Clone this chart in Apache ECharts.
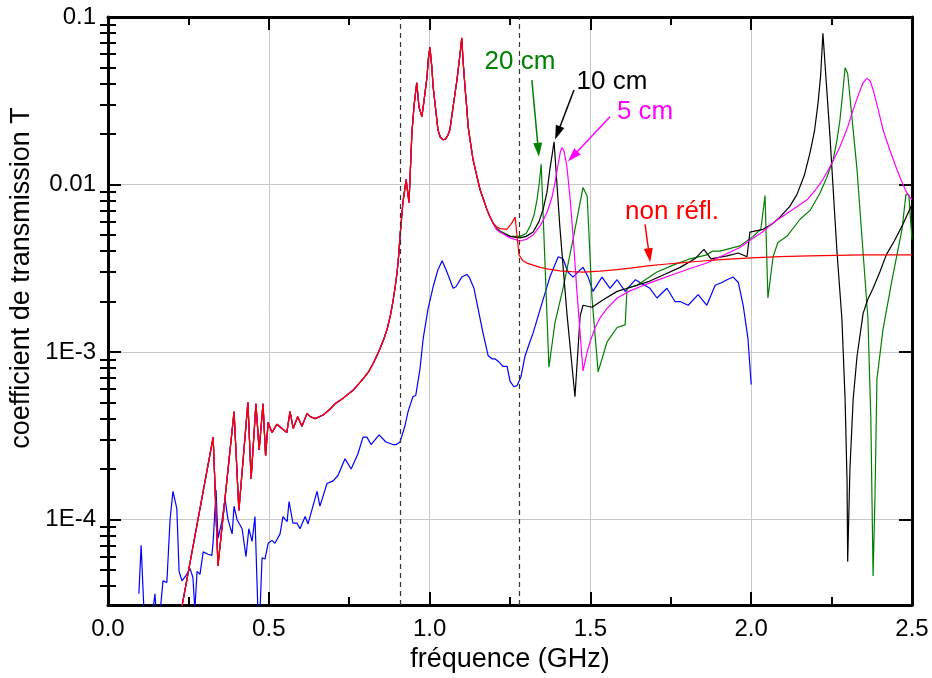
<!DOCTYPE html>
<html><head><meta charset="utf-8">
<script src="https://cdn.jsdelivr.net/npm/echarts@6/dist/echarts.min.js"></script>
<style>html,body{margin:0;padding:0;background:#fff}#c{width:932px;height:678px}</style>
</head><body><div id="c"></div>
<script>
// ---------- data (frequency in GHz, transmission coefficient T) ----------
// low-frequency part shared by all computed curves (up to ~1.2 GHz)
const commonLow = [[0.222,2.5e-5],[0.327,3.1e-4],[0.342,5.3e-5],[0.392,4.4e-4],[0.407,1.13e-4],[0.435,5.0e-4],[0.445,1.75e-4],[0.46,4.9e-4],[0.47,2.6e-4],[0.482,4.9e-4],[0.49,2.4e-4],[0.498,3.8e-4],[0.51,3.3e-4],[0.525,3.7e-4],[0.54,3.5e-4],[0.556,3.3e-4],[0.566,4.4e-4],[0.576,3.5e-4],[0.59,4.1e-4],[0.603,3.6e-4],[0.619,4.3e-4],[0.63,4.1e-4],[0.644,4.0e-4],[0.669,4.2e-4],[0.69,4.55e-4],[0.706,4.9e-4],[0.731,5.3e-4],[0.762,5.9e-4],[0.793,6.9e-4],[0.81,7.6e-4],[0.824,8.5e-4],[0.836,9.5e-4],[0.846,1.05e-3],[0.858,1.2e-3],[0.868,1.37e-3],[0.878,1.65e-3],[0.886,2.0e-3],[0.893,2.45e-3],[0.899,3.0e-3],[0.904,3.8e-3],[0.908,4.9e-3],[0.917,7.8e-3],[0.927,0.0107],[0.936,7.8e-3],[0.945,0.0204],[0.952,0.03],[0.96,0.0405],[0.967,0.029],[0.976,0.0254],[0.983,0.032],[0.992,0.044],[0.996,0.056],[1.001,0.066],[1.007,0.05],[1.011,0.0383],[1.019,0.028],[1.026,0.0212],[1.033,0.0192],[1.042,0.0185],[1.05,0.0187],[1.057,0.0197],[1.063,0.0212],[1.073,0.029],[1.085,0.042],[1.095,0.061],[1.1,0.075],[1.104,0.055],[1.11,0.0383],[1.116,0.028],[1.12,0.022],[1.128,0.0173],[1.135,0.0141],[1.147,0.0112],[1.157,9.3e-3],[1.168,8.1e-3],[1.178,7.1e-3],[1.188,6.4e-3],[1.197,5.9e-3]];
const redTail = [[1.208,5.6e-3],[1.219,5.45e-3],[1.24,5.4e-3],[1.256,5.9e-3],[1.266,6.4e-3],[1.272,4.9e-3],[1.278,3.8e-3],[1.29,3.5e-3],[1.305,3.38e-3],[1.322,3.3e-3],[1.343,3.2e-3],[1.37,3.12e-3],[1.405,3.05e-3],[1.44,3.02e-3],[1.477,3.0e-3],[1.53,3.04e-3],[1.583,3.1e-3],[1.63,3.18e-3],[1.685,3.28e-3],[1.73,3.34e-3],[1.779,3.4e-3],[1.84,3.48e-3],[1.894,3.55e-3],[2.0,3.65e-3],[2.09,3.71e-3],[2.18,3.75e-3],[2.35,3.8e-3],[2.5,3.8e-3]];
const magentaTail = [[1.208,5.4e-3],[1.219,5.2e-3],[1.25,4.8e-3],[1.281,4.6e-3],[1.3,4.7e-3],[1.322,5.0e-3],[1.345,5.7e-3],[1.365,6.8e-3],[1.38,8.3e-3],[1.39,0.0103],[1.4,0.0133],[1.407,0.0158],[1.412,0.0166],[1.418,0.0158],[1.427,0.0128],[1.437,8.2e-3],[1.447,4.7e-3],[1.458,2.3e-3],[1.468,1.3e-3],[1.477,7.7e-4],[1.49,1.0e-3],[1.499,1.15e-3],[1.515,1.4e-3],[1.53,1.6e-3],[1.55,1.8e-3],[1.583,2.1e-3],[1.62,2.3e-3],[1.654,2.45e-3],[1.7,2.65e-3],[1.757,2.9e-3],[1.81,3.15e-3],[1.862,3.4e-3],[1.91,3.75e-3],[1.965,4.2e-3],[2.0,4.7e-3],[2.035,5.2e-3],[2.068,5.9e-3],[2.12,6.9e-3],[2.174,8.1e-3],[2.2,9.3e-3],[2.223,0.0107],[2.25,0.0133],[2.276,0.0168],[2.3,0.022],[2.317,0.028],[2.335,0.035],[2.348,0.0405],[2.36,0.043],[2.37,0.0415],[2.379,0.0368],[2.395,0.028],[2.41,0.0212],[2.43,0.0163],[2.453,0.0123],[2.47,0.0102],[2.484,8.9e-3],[2.5,8.1e-3]];
const blackTail = [[1.208,5.4e-3],[1.219,5.2e-3],[1.25,4.9e-3],[1.281,4.8e-3],[1.3,4.9e-3],[1.322,5.2e-3],[1.34,6.0e-3],[1.353,7.1e-3],[1.365,9.0e-3],[1.374,0.0123],[1.382,0.0155],[1.387,0.018],[1.405,5.6e-3],[1.427,1.7e-3],[1.452,5.4e-4],[1.468,1.63e-3],[1.477,1.9e-3],[1.505,1.85e-3],[1.54,2.05e-3],[1.583,2.3e-3],[1.63,2.45e-3],[1.685,2.65e-3],[1.73,2.9e-3],[1.779,3.2e-3],[1.825,3.6e-3],[1.853,4.1e-3],[1.875,3.6e-3],[1.925,3.75e-3],[1.96,3.9e-3],[1.987,3.7e-3],[1.996,5.2e-3],[2.037,5.4e-3],[2.065,5.8e-3],[2.09,6.4e-3],[2.12,7.4e-3],[2.142,8.7e-3],[2.165,0.0113],[2.183,0.0155],[2.197,0.021],[2.208,0.0308],[2.216,0.045],[2.223,0.08],[2.245,0.0193],[2.267,3.9e-3],[2.282,1.58e-3],[2.292,5.2e-4],[2.298,1.7e-4],[2.3,5.6e-5],[2.307,2.0e-4],[2.317,5.2e-4],[2.329,9.4e-4],[2.348,1.7e-3],[2.362,2.05e-3],[2.379,2.4e-3],[2.4,3.0e-3],[2.42,3.8e-3],[2.445,4.6e-3],[2.472,5.8e-3],[2.5,7.6e-3]];
const greenTail = [[1.208,5.5e-3],[1.219,5.3e-3],[1.25,4.9e-3],[1.281,4.9e-3],[1.3,5.1e-3],[1.312,5.6e-3],[1.325,6.6e-3],[1.334,8.1e-3],[1.341,0.0102],[1.347,0.0132],[1.359,3.3e-3],[1.371,8.1e-4],[1.39,1.5e-3],[1.415,2.4e-3],[1.446,4.7e-3],[1.477,9.6e-3],[1.49,8.5e-3],[1.505,2.1e-3],[1.524,7.6e-4],[1.552,1.15e-3],[1.583,1.4e-3],[1.608,1.45e-3],[1.614,2.4e-3],[1.645,2.5e-3],[1.707,3.0e-3],[1.757,3.3e-3],[1.81,3.6e-3],[1.862,3.8e-3],[1.88,4.0e-3],[1.903,4.0e-3],[1.965,4.3e-3],[2.006,4.9e-3],[2.03,5.4e-3],[2.043,8.6e-3],[2.052,2.1e-3],[2.068,3.7e-3],[2.083,4.5e-3],[2.111,4.9e-3],[2.152,6.2e-3],[2.183,7.0e-3],[2.214,8.9e-3],[2.235,0.011],[2.255,0.0141],[2.266,0.018],[2.276,0.0243],[2.285,0.036],[2.292,0.0497],[2.3,0.046],[2.329,0.0123],[2.348,3.9e-3],[2.363,1.58e-3],[2.372,4.0e-4],[2.379,4.6e-5],[2.385,1.4e-4],[2.391,6.9e-4],[2.41,1.37e-3],[2.438,2.7e-3],[2.469,5.4e-3],[2.481,8.7e-3],[2.49,8.7e-3],[2.5,4.7e-3]];
const blue = [[0.096,3.6e-5],[0.103,7.0e-5],[0.112,2.8e-5],[0.13,2.0e-5],[0.146,3.6e-5],[0.155,2.0e-5],[0.171,4.3e-5],[0.183,4.2e-5],[0.193,1.0e-4],[0.202,1.47e-4],[0.214,1.16e-4],[0.221,4.9e-5],[0.23,4.3e-5],[0.245,4.7e-5],[0.255,5.1e-5],[0.264,4.5e-5],[0.27,2.9e-5],[0.277,4.9e-5],[0.286,4.7e-5],[0.296,6.4e-5],[0.311,6.2e-5],[0.323,6.1e-5],[0.327,7.4e-5],[0.336,1.5e-4],[0.342,7.7e-5],[0.354,9.7e-5],[0.364,1.33e-4],[0.373,1.0e-4],[0.386,8.2e-5],[0.392,1.2e-4],[0.401,1.0e-4],[0.417,8.8e-5],[0.429,6.0e-5],[0.438,8.8e-5],[0.448,7.4e-5],[0.457,1.04e-4],[0.466,2.9e-5],[0.473,2.9e-5],[0.479,5.9e-5],[0.488,5.8e-5],[0.498,7.2e-5],[0.51,7.5e-5],[0.519,7.2e-5],[0.535,8.2e-5],[0.544,1.04e-4],[0.557,9.7e-5],[0.563,1.28e-4],[0.575,9.5e-5],[0.588,9.5e-5],[0.597,8.8e-5],[0.613,1.04e-4],[0.622,9.4e-5],[0.65,1.47e-4],[0.659,1.2e-4],[0.681,1.64e-4],[0.7,1.7e-4],[0.715,1.83e-4],[0.737,2.3e-4],[0.756,2.0e-4],[0.777,2.46e-4],[0.793,3.1e-4],[0.805,3.1e-4],[0.818,2.8e-4],[0.843,3.2e-4],[0.864,2.9e-4],[0.886,2.8e-4],[0.896,2.8e-4],[0.908,2.9e-4],[0.923,3.6e-4],[0.933,4.4e-4],[0.948,5.4e-4],[0.957,5.5e-4],[0.97,7.9e-4],[0.98,1.2e-3],[0.995,1.8e-3],[1.011,2.45e-3],[1.026,3.1e-3],[1.039,3.5e-3],[1.054,3.0e-3],[1.073,2.4e-3],[1.082,2.45e-3],[1.1,2.8e-3],[1.116,2.9e-3],[1.123,2.8e-3],[1.138,2.4e-3],[1.151,1.8e-3],[1.166,1.3e-3],[1.182,9.5e-4],[1.194,9.1e-4],[1.203,9.1e-4],[1.216,8.7e-4],[1.228,8.2e-4],[1.241,8.2e-4],[1.25,6.7e-4],[1.262,6.2e-4],[1.272,6.3e-4],[1.284,7.1e-4],[1.297,9.5e-4],[1.312,1.15e-3],[1.322,1.3e-3],[1.35,1.97e-3],[1.374,2.8e-3],[1.4,3.7e-3],[1.415,3.6e-3],[1.43,3.0e-3],[1.446,2.8e-3],[1.461,3.0e-3],[1.477,3.2e-3],[1.493,2.8e-3],[1.508,2.3e-3],[1.536,2.8e-3],[1.561,2.4e-3],[1.583,2.7e-3],[1.608,2.3e-3],[1.64,2.7e-3],[1.654,2.6e-3],[1.685,2.4e-3],[1.707,2.1e-3],[1.738,2.4e-3],[1.763,2.0e-3],[1.779,2.0e-3],[1.804,1.9e-3],[1.835,2.2e-3],[1.862,1.9e-3],[1.888,2.5e-3],[1.909,2.6e-3],[1.925,2.7e-3],[1.944,2.8e-3],[1.96,2.6e-3],[1.975,1.9e-3],[1.99,1.2e-3],[2.0,6.4e-4]];
const cutoffLines = [0.908, 1.281];           // dashed vertical lines (GHz)
const xTickLabels = ['0.0','0.5','1.0','1.5','2.0','2.5'];
const yTickLabels = {'-1':'0.1','-2':'0.01','-3':'1E-3','-4':'1E-4'};
const Y_MIN = 3.08e-5, Y_MAX = 0.1;

// ---------- annotations ----------
const FONT = '"Liberation Sans", Arial, sans-serif';
const notes = {
  green:   {text:'20 cm',     at:[1.281,0.054],  from:[1.318,0.042],  to:[1.338,0.0161]},
  black:   {text:'10 cm',     at:[1.567,0.041],  from:[1.449,0.0367], to:[1.398,0.0203]},
  magenta: {text:'5 cm',      at:[1.670,0.0272], from:[1.561,0.0254], to:[1.445,0.0147]},
  red:     {text:'non réfl.', at:[1.754,6.9e-3], from:[1.670,5.78e-3],to:[1.683,3.78e-3]}
};
const COLORS = {red:'#ff0000', magenta:'#ff00ff', black:'#000000', green:'#008000', blue:'#0000ff'};

function annot(key){
  const n = notes[key], c = COLORS[key];
  return {
    markLine:{silent:true, animation:false, symbol:['none','triangle'], symbolSize:[9,14],
      lineStyle:{color:c, width:1.5, type:'solid'}, label:{show:false},
      data:[[{coord:n.from},{coord:n.to}]]},
    markPoint:{silent:true, animation:false, symbol:'circle', symbolSize:0,
      label:{show:true, position:'inside', formatter:n.text, color:c, fontSize:26, fontFamily:FONT},
      data:[{coord:n.at}]}
  };
}

const lmin = Math.log10(Y_MIN), lmax = Math.log10(Y_MAX);
const minorLog = [];
for (let d=-5; d<=-2; d++) for (let k=2;k<=9;k++){ const v=Math.log10(k)+d; if (v>lmin && v<lmax) minorLog.push(v); }

const axisLine = {show:true, onZero:false, lineStyle:{color:'#000', width:3}};
const tickStyle = {color:'#000', width:2};
const gridLine = {show:true, lineStyle:{color:'#c8c8c8', width:1}};

function line(name, data, key, extra){
  return Object.assign({name, type:'line', data, showSymbol:false, symbol:'none', clip:true,
    lineStyle:{color:COLORS[key], width:1.2}, itemStyle:{color:COLORS[key]}, animation:false}, extra||{});
}

const chart = echarts.init(document.getElementById('c'));
chart.setOption({
  backgroundColor:'#fff',
  animation:false,
  grid:{left:108, right:20, top:17, bottom:71, containLabel:false},
  xAxis:[
    {type:'value', min:0, max:2.5, interval:0.5, position:'bottom', axisLine,
     axisTick:{inside:true, length:13, lineStyle:tickStyle},
     minorTick:{show:true, splitNumber:2, length:8, lineStyle:tickStyle},
     splitLine:gridLine,
     axisLabel:{color:'#000', fontSize:24, fontFamily:FONT, margin:12,
       formatter:v=>xTickLabels[Math.round(v/0.5)]||''},
     name:'fréquence (GHz)', nameLocation:'middle', nameGap:36,
     nameTextStyle:{color:'#000', fontSize:27, fontFamily:FONT}},
    {type:'value', min:0, max:2.5, interval:0.5, position:'top', axisLine,
     axisTick:{inside:true, length:13, lineStyle:tickStyle},
     minorTick:{show:true, splitNumber:2, length:8, lineStyle:tickStyle},
     splitLine:{show:false}, axisLabel:{show:false}}
  ],
  yAxis:[
    {type:'log', logBase:10, min:Y_MIN, max:Y_MAX, position:'left', axisLine,
     axisTick:{inside:true, length:13, lineStyle:tickStyle},
     splitLine:gridLine,
     axisLabel:{color:'#000', fontSize:24, fontFamily:FONT, margin:12,
       formatter:v=>{const e=Math.log10(v), r=Math.round(e); return Math.abs(e-r)<1e-6 ? (yTickLabels[r]||'') : '';}}},
    {type:'log', logBase:10, min:Y_MIN, max:Y_MAX, position:'right', axisLine,
     axisTick:{inside:true, length:13, lineStyle:tickStyle},
     splitLine:{show:false}, axisLabel:{show:false}},
    {type:'value', min:lmin, max:lmax, position:'left', axisLine:{show:false},
     axisTick:{show:true, inside:true, length:8, lineStyle:tickStyle, customValues:minorLog},
     splitLine:{show:false}, axisLabel:{show:false}},
    {type:'value', min:lmin, max:lmax, position:'right', axisLine:{show:false},
     axisTick:{show:true, inside:true, length:8, lineStyle:tickStyle, customValues:minorLog},
     splitLine:{show:false}, axisLabel:{show:false}}
  ],
  graphic:[{type:'text', x:22, y:278, rotation:Math.PI/2,
    style:{text:'coefficient de transmission T', fill:'#000', font:'27px '+FONT, textAlign:'center', textVerticalAlign:'middle'}}],
  series:[
    line('mesure', blue, 'blue', {markLine:{silent:true, animation:false, symbol:['none','none'], label:{show:false},
      lineStyle:{color:'#333', width:1.2, type:[5,4]}, data:cutoffLines.map(v=>({xAxis:v}))}}),
    line('20 cm', commonLow.concat(greenTail), 'green', annot('green')),
    line('10 cm', commonLow.concat(blackTail), 'black', annot('black')),
    line('5 cm', commonLow.concat(magentaTail), 'magenta', annot('magenta')),
    line('non réfl.', commonLow.concat(redTail), 'red', annot('red'))
  ]
});
</script></body></html>
